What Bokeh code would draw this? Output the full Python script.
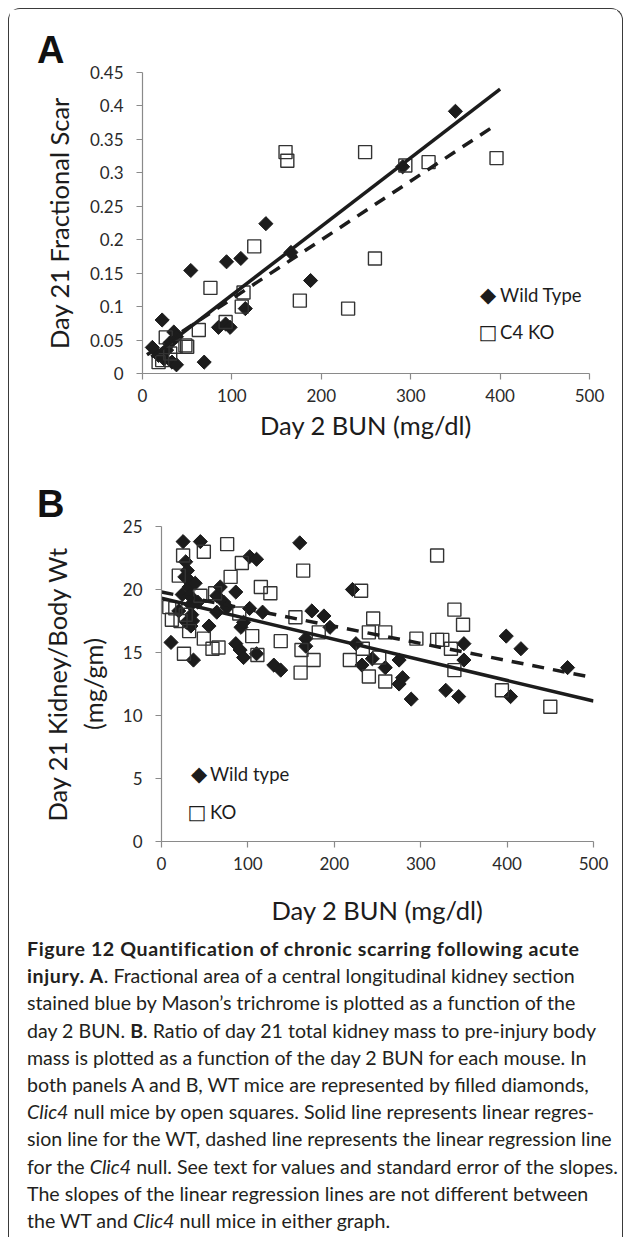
import numpy as np
from bokeh.plotting import figure
from bokeh.models import Range1d, FixedTicker, Div, Label, Spacer
from bokeh.layouts import column, row
from bokeh.embed import file_html
from bokeh.resources import INLINE

# ---------------- Panel A data ----------------
a_wt_bun = [11, 18, 22, 24, 27, 30, 33, 35, 38, 38, 54, 69, 85, 93, 94, 98, 110, 115, 138, 166, 188, 291, 350]
a_wt_scar = [0.039, 0.027, 0.080, 0.022, 0.035, 0.045, 0.017, 0.062, 0.055, 0.013, 0.154, 0.017, 0.069,
             0.074, 0.167, 0.069, 0.172, 0.097, 0.224, 0.181, 0.139, 0.309, 0.392]
a_ko_bun = [18, 22, 26, 31, 37, 48, 50, 63, 76, 93, 111, 113, 125, 160, 162, 176, 230, 249, 260, 294, 320, 396]
a_ko_scar = [0.017, 0.020, 0.054, 0.030, 0.040, 0.042, 0.040, 0.065, 0.128, 0.077, 0.100, 0.121, 0.190,
             0.331, 0.318, 0.109, 0.097, 0.331, 0.172, 0.311, 0.316, 0.322]
a_wt_fit_x = [10, 400]
a_wt_fit_y = [0.025, 0.425]
a_ko_fit_x = [5, 390]
a_ko_fit_y = [0.028, 0.367]
a_x_ticks = [0, 100, 200, 300, 400, 500]
a_y_ticks = [0, 0.05, 0.1, 0.15, 0.2, 0.25, 0.3, 0.35, 0.4, 0.45]
a_y_tick_labels = ["0", "0.05", "0.1", "0.15", "0.2", "0.25", "0.3", "0.35", "0.4", "0.45"]
a_legend_labels = ["Wild Type", "C4 KO"]

# ---------------- Panel B data ----------------
b_wt_bun = [11, 20, 24, 25, 27, 28, 29, 30, 31, 32, 33, 34, 34, 35, 36, 37, 39, 42, 45, 55, 64, 64, 68, 72, 76,
            86, 86, 91, 92, 95, 95, 102, 102, 110, 110, 117, 130, 138, 160, 167, 167, 174, 188, 195, 221,
            225, 232, 244, 259, 275, 275, 279, 289, 329, 344, 350, 350, 399, 404, 416, 470]
b_wt_ratio = [15.8, 18.3, 19.6, 23.8, 21.0, 22.2, 17.4, 21.5, 20.8, 20.2, 19.5, 18.8, 17.1, 18.0, 17.5, 14.4,
              20.5, 19.0, 23.8, 17.1, 18.2, 19.5, 20.2, 19.0, 18.6, 19.8, 15.7, 15.2, 17.0, 14.6, 17.4, 22.6,
              18.5, 22.4, 14.9, 18.2, 14.0, 13.6, 23.7, 16.1, 15.5, 18.3, 17.9, 17.0, 20.0, 15.7, 14.0, 14.5,
              13.8, 14.4, 12.5, 13.0, 11.3, 12.0, 11.5, 15.7, 14.4, 16.3, 11.5, 15.3, 13.8]
b_ko_bun = [9, 12, 16, 20, 22, 25, 26, 28, 32, 45, 49, 49, 59, 62, 66, 76, 80, 90, 93, 105, 111, 115, 126, 138,
            155, 161, 162, 164, 176, 182, 218, 231, 233, 240, 240, 245, 252, 259, 259, 295, 319, 319, 325,
            335, 339, 339, 349, 394, 450]
b_ko_ratio = [18.6, 17.6, 18.5, 21.1, 17.5, 22.7, 14.9, 18.0, 16.7, 19.5, 23.0, 16.1, 15.3, 19.7, 15.4, 23.6,
              21.0, 18.1, 22.1, 16.3, 14.8, 20.2, 19.7, 15.9, 17.8, 13.4, 15.2, 21.5, 14.4, 16.6, 14.4, 19.9,
              15.3, 16.6, 13.1, 17.7, 14.6, 16.6, 12.7, 16.1, 22.7, 16.0, 16.0, 15.3, 18.4, 13.6, 17.2, 12.0,
              10.7]
b_wt_fit_x = [0, 500]
b_wt_fit_y = [19.3, 11.15]
b_ko_fit_x = [0, 500]
b_ko_fit_y = [19.8, 13.0]
b_x_ticks = [0, 100, 200, 300, 400, 500]
b_y_ticks = [0, 5, 10, 15, 20, 25]
b_legend_labels = ["Wild type", "KO"]

FONT = "Lato"
AXIS_GRAY = "#8a8a8a"
INK = "#1c1c1c"
BORDER_L = 133
BORDER_R = 28


def style(p):
    p.grid.visible = False
    p.outline_line_color = None
    p.background_fill_color = "white"
    p.border_fill_color = "white"
    for ax in (p.xaxis[0], p.yaxis[0]):
        ax.axis_line_color = AXIS_GRAY
        ax.axis_line_width = 1.2
        ax.major_tick_line_color = AXIS_GRAY
        ax.major_tick_line_width = 1.2
        ax.minor_tick_line_color = None
        ax.major_tick_in = 0
        ax.major_tick_out = 6
        ax.major_label_text_font = FONT
        ax.major_label_text_font_size = "17px"
        ax.major_label_text_color = "#2a2a2a"
        ax.axis_label_text_font = FONT
        ax.axis_label_text_font_style = "normal"
        ax.axis_label_text_font_size = "25.5px"
        ax.axis_label_text_color = INK


def panel_letter(p, letter, offset):
    p.title.text = letter
    p.title.align = "left"
    p.title.offset = offset
    p.title.standoff = 4
    p.title.text_font = "Liberation Sans"
    p.title.text_font_style = "bold"
    p.title.text_font_size = "38px"
    p.title.text_color = "#111111"


def legend_entry(p, x, y, symbol, symbol_size, text_x, label):
    p.add_layout(Label(x=x, y=y, text=symbol, text_font="DejaVu Sans", text_font_size=symbol_size,
                       text_color=INK, text_align="center", text_baseline="middle"))
    p.add_layout(Label(x=text_x, y=y, text=label, text_font=FONT, text_font_size="18.5px",
                       text_color=INK, text_align="left", text_baseline="middle"))


# ---------------- Figure A ----------------
pA = figure(width=608, height=456, x_range=Range1d(0, 500), y_range=Range1d(0, 0.45),
            output_backend="svg", toolbar_location=None,
            min_border_left=BORDER_L, min_border_right=BORDER_R, min_border_top=63, min_border_bottom=92)
style(pA)
panel_letter(pA, "A", -105.5)
pA.xaxis.ticker = FixedTicker(ticks=a_x_ticks)
pA.yaxis.ticker = FixedTicker(ticks=a_y_ticks)
pA.yaxis.major_label_overrides = {t: s for t, s in zip(a_y_ticks, a_y_tick_labels)}
pA.xaxis.axis_label = "Day 2 BUN (mg/dl)"
pA.yaxis.axis_label = "Day 21 Fractional Scar"
pA.xaxis.major_label_standoff = 9
pA.xaxis.axis_label_standoff = 5
pA.yaxis.major_label_standoff = 13
pA.yaxis.axis_label_standoff = 13

pA.scatter(a_wt_bun, a_wt_scar, marker="square", size=10, angle=np.pi / 4,
           fill_color=INK, line_color=INK, line_width=1)
pA.scatter(a_ko_bun, a_ko_scar, marker="square", size=13, fill_alpha=0,
           line_color="#333333", line_width=1.4)
pA.line(a_wt_fit_x, a_wt_fit_y, line_color=INK, line_width=3.5)
pA.line(a_ko_fit_x, a_ko_fit_y, line_color=INK, line_width=3.5, line_dash="12 9")

legend_entry(pA, 386.5, 0.1173, "\u25c6", "21px", 400, a_legend_labels[0])
legend_entry(pA, 386.5, 0.062, "\u25a1", "20px", 400, a_legend_labels[1])

# ---------------- Figure B ----------------
pB = figure(width=593, height=465, x_range=Range1d(0, 500), y_range=Range1d(0, 25),
            output_backend="svg", toolbar_location=None,
            min_border_left=BORDER_L, min_border_right=BORDER_R, min_border_top=61, min_border_bottom=89)
style(pB)
panel_letter(pB, "B", -124.5)
pB.xaxis.ticker = FixedTicker(ticks=b_x_ticks)
pB.yaxis.ticker = FixedTicker(ticks=b_y_ticks)
pB.xaxis.axis_label = "Day 2 BUN (mg/dl)"
pB.yaxis.axis_label = "Day 21 Kidney/Body Wt\n(mg/gm)"
pB.xaxis.major_label_standoff = 9
pB.xaxis.axis_label_standoff = 22
pB.yaxis.major_label_standoff = 13
pB.yaxis.axis_label_standoff = 12

pB.scatter(b_wt_bun, b_wt_ratio, marker="square", size=10, angle=np.pi / 4,
           fill_color=INK, line_color=INK, line_width=1)
pB.scatter(b_ko_bun, b_ko_ratio, marker="square", size=13, fill_alpha=0,
           line_color="#333333", line_width=1.4)
pB.line(b_wt_fit_x, b_wt_fit_y, line_color=INK, line_width=3.5)
pB.line(b_ko_fit_x, b_ko_fit_y, line_color=INK, line_width=3.5, line_dash="12 9")

legend_entry(pB, 43.4, 5.36, "\u25c6", "21px", 56.1, b_legend_labels[0])
legend_entry(pB, 41.1, 2.34, "\u25a1", "20px", 56.1, b_legend_labels[1])

# ---------------- Caption ----------------
B = '<b style="letter-spacing:0.6px">'
caption_html = (
    '<div style="font-family:Lato, sans-serif; font-size:19.6px; line-height:27.2px; color:#231f20;'
    ' white-space:nowrap; padding-left:13px; padding-top:0px;">'
    + B + 'Figure 12 Quantification of chronic scarring following acute</b><br>'
    + B + 'injury. A</b>. Fractional area of a central longitudinal kidney section<br>'
    'stained blue by Mason\u2019s trichrome is plotted as a function of the<br>'
    'day 2 BUN. <b>B</b>. Ratio of day 21 total kidney mass to pre-injury body<br>'
    'mass is plotted as a function of the day 2 BUN for each mouse. In<br>'
    'both panels A and B, WT mice are represented by filled diamonds,<br>'
    '<i>Clic4</i> null mice by open squares. Solid line represents linear regres-<br>'
    'sion line for the WT, dashed line represents the linear regression line<br>'
    'for the <i>Clic4</i> null. See text for values and standard error of the slopes.<br>'
    'The slopes of the linear regression lines are not different between<br>'
    'the WT and <i>Clic4</i> null mice in either graph.'
    '</div>'
)
caption = Div(text=caption_html, width=612, height=300, styles={"overflow": "hidden"})

layout = column(pA, row(Spacer(width=19, height=465), pB), caption, width=615,
                styles={"border-top": "1.5px solid #3a3a3a", "border-left": "1.5px solid #3a3a3a",
                        "border-right": "1.5px solid #3a3a3a", "border-radius": "12px 12px 0 0",
                        "background": "white", "margin-left": "8px", "margin-top": "8px",
                        "width": "615px", "box-sizing": "border-box"})

open("out.html", "w").write(file_html(layout, INLINE))
